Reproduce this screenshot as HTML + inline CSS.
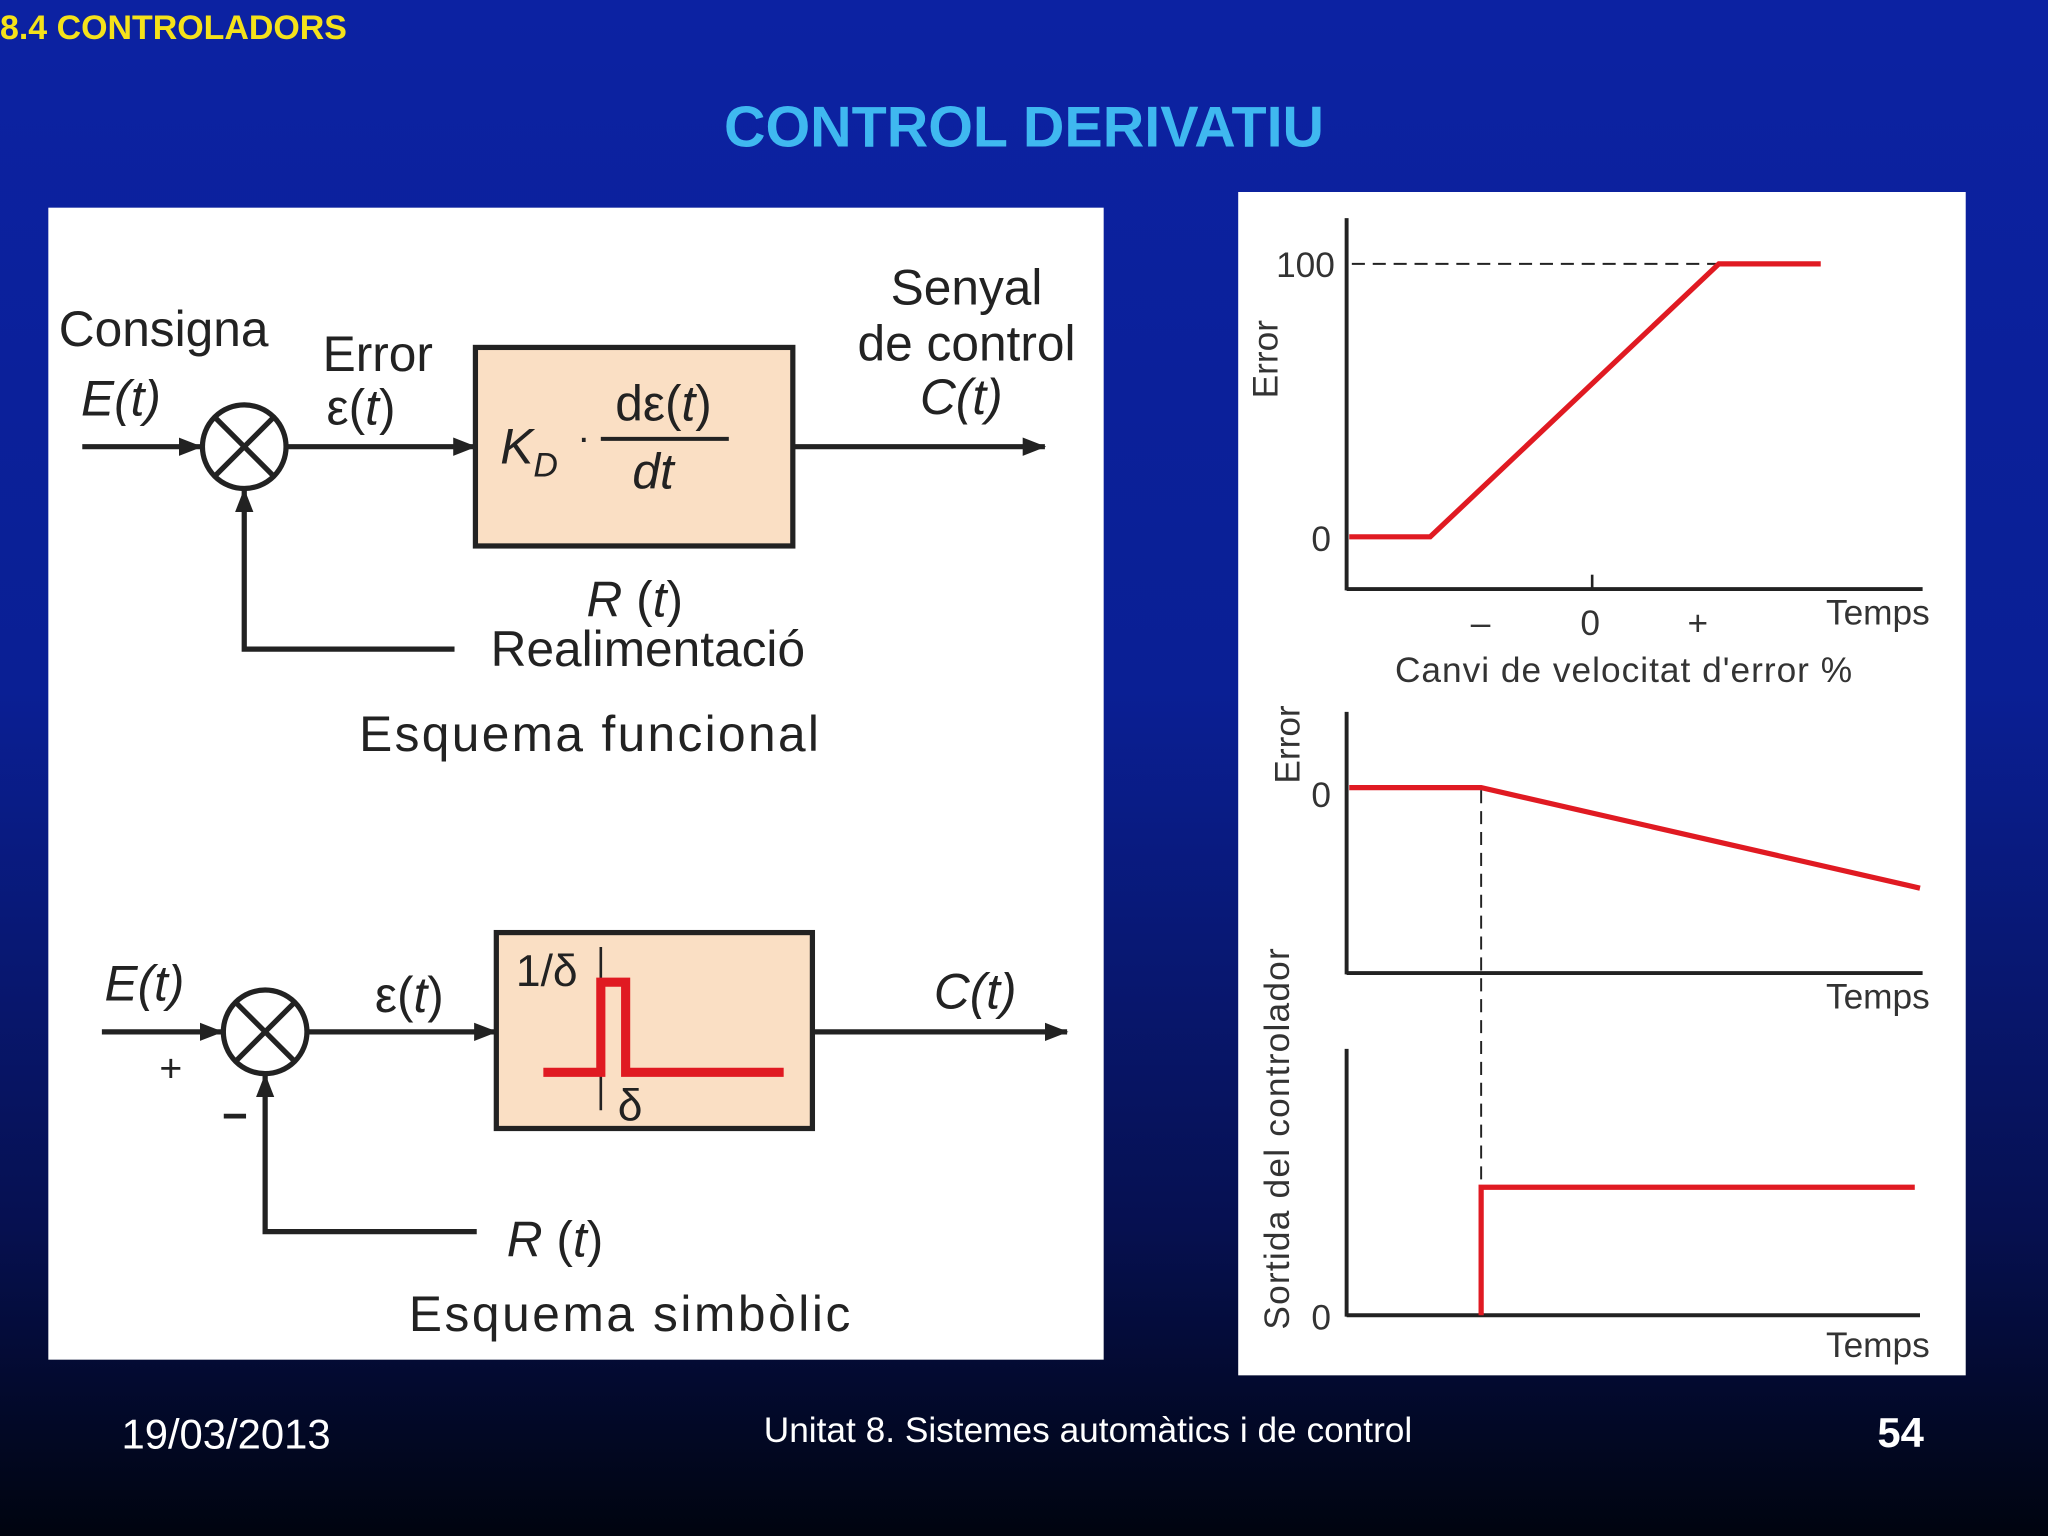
<!DOCTYPE html>
<html><head><meta charset="utf-8"><style>
html,body{margin:0;padding:0;width:2048px;height:1536px;overflow:hidden}
</style></head><body>
<svg width="2048" height="1536" viewBox="0 0 1568 1176" xmlns="http://www.w3.org/2000/svg" font-family="Liberation Sans, sans-serif">
<defs>
<linearGradient id="bg" x1="0" y1="0" x2="0" y2="1">
<stop offset="0" stop-color="#0c22a2"/>
<stop offset="0.45" stop-color="#0a1f94"/>
<stop offset="0.8" stop-color="#061050"/>
<stop offset="1" stop-color="#00040f"/>
</linearGradient>
<marker id="ah" markerWidth="18" markerHeight="14" refX="17" refY="7" orient="auto" markerUnits="userSpaceOnUse"><path d="M0,0 L18,7 L0,14 z" fill="#222"/></marker>
</defs>
<rect width="1568" height="1176" fill="url(#bg)"/>
<text x="0" y="30" fill="#f5e21a" font-size="26" font-family="Liberation Sans Narrow, Liberation Sans, sans-serif" font-weight="bold">8.4 CONTROLADORS</text>
<text x="784" y="112" fill="#3fb8f0" font-size="44" text-anchor="middle" font-weight="bold">CONTROL DERIVATIU</text>

<rect x="37" y="159" width="808" height="882" fill="#fff"/>
<g fill="#222" stroke="#222">
<text x="45" y="265" font-size="38" stroke="none">Consigna</text>
<text x="62" y="318" font-size="38" font-style="italic" stroke="none">E(t)</text>
<text x="247" y="284" font-size="38" stroke="none">Error</text>
<text x="250" y="325" font-size="38" stroke="none">ε(<tspan font-style="italic">t</tspan>)</text>
<text x="740" y="233" font-size="38" text-anchor="middle" stroke="none">Senyal</text>
<text x="740" y="276" font-size="38" text-anchor="middle" stroke="none">de control</text>
<text x="736" y="317" font-size="38" font-style="italic" text-anchor="middle" stroke="none">C(t)</text>
<line x1="63" y1="342" x2="154" y2="342" stroke-width="4" marker-end="url(#ah)"/>
<circle cx="187" cy="342" r="32" fill="none" stroke-width="4"/>
<line x1="164" y1="319" x2="210" y2="365" stroke-width="4"/><line x1="210" y1="319" x2="164" y2="365" stroke-width="4"/>
<line x1="219" y1="342" x2="364" y2="342" stroke-width="4" marker-end="url(#ah)"/>
<rect x="364" y="266" width="243" height="152" fill="#fadfc4" stroke-width="4"/>
<text x="383" y="355" font-size="38" font-style="italic" stroke="none">K<tspan font-size="26" dy="10">D</tspan></text>
<text x="442" y="345" font-size="30" stroke="none">·</text>
<text x="508" y="322" font-size="38" text-anchor="middle" stroke="none">dε(<tspan font-style="italic">t</tspan>)</text>
<line x1="460" y1="336" x2="558" y2="336" stroke-width="3"/>
<text x="500" y="374" font-size="38" font-style="italic" text-anchor="middle" stroke="none">dt</text>
<line x1="607" y1="342" x2="800" y2="342" stroke-width="4" marker-end="url(#ah)"/>
<polyline points="348,497 187,497 187,375" fill="none" stroke-width="4" marker-end="url(#ah)"/>
<text x="486" y="472" font-size="38" text-anchor="middle" stroke="none"><tspan font-style="italic">R</tspan> (<tspan font-style="italic">t</tspan>)</text>
<text x="496" y="510" font-size="38" text-anchor="middle" stroke="none">Realimentació</text>
<text x="451" y="575" font-size="38" text-anchor="middle" stroke="none" textLength="352">Esquema funcional</text>

<text x="80" y="766" font-size="38" font-style="italic" stroke="none">E(t)</text>
<line x1="78" y1="790" x2="170" y2="790" stroke-width="4" marker-end="url(#ah)"/>
<text x="122" y="828" font-size="30" stroke="none">+</text>
<text x="170" y="866" font-size="34" stroke="none" font-weight="bold">−</text>
<circle cx="203" cy="790" r="32" fill="none" stroke-width="4"/>
<line x1="180" y1="767" x2="226" y2="813" stroke-width="4"/><line x1="226" y1="767" x2="180" y2="813" stroke-width="4"/>
<text x="287" y="775" font-size="38" stroke="none">ε(<tspan font-style="italic">t</tspan>)</text>
<line x1="235" y1="790" x2="380" y2="790" stroke-width="4" marker-end="url(#ah)"/>
<rect x="380" y="714" width="242" height="150" fill="#fadfc4" stroke-width="4"/>
<text x="395" y="755" font-size="34" stroke="none">1/δ</text>
<line x1="460" y1="725" x2="460" y2="850" stroke-width="2"/>
<polyline points="416,821 460,821 460,752 479,752 479,821 600,821" fill="none" stroke="#e01a22" stroke-width="7"/>
<text x="473" y="858" font-size="34" stroke="none">δ</text>
<line x1="622" y1="790" x2="817" y2="790" stroke-width="4" marker-end="url(#ah)"/>
<text x="715" y="772" font-size="38" font-style="italic" stroke="none">C(t)</text>
<polyline points="365,943 203,943 203,823" fill="none" stroke-width="4" marker-end="url(#ah)"/>
<text x="388" y="962" font-size="38" stroke="none"><tspan font-style="italic">R</tspan> (<tspan font-style="italic">t</tspan>)</text>
<text x="482" y="1019" font-size="38" text-anchor="middle" stroke="none" textLength="338">Esquema simbòlic</text>
</g>

<rect x="948" y="147" width="557" height="906" fill="#fff"/>
<g fill="#333" stroke="#222" font-size="27">
<text x="977" y="212" stroke="none">100</text>
<text x="1004" y="422" stroke="none">0</text>
<text transform="translate(978,305) rotate(-90)" stroke="none">Error</text>
<line x1="1031" y1="167" x2="1031" y2="452" stroke-width="3"/>
<line x1="1031" y1="451" x2="1472" y2="451" stroke-width="3"/>
<line x1="1219" y1="440" x2="1219" y2="451" stroke-width="2"/>
<line x1="1035" y1="202" x2="1315" y2="202" stroke-width="1.5" stroke-dasharray="10,6"/>
<polyline points="1033,411 1095,411 1316,202 1394,202" fill="none" stroke="#e01a22" stroke-width="4"/>
<text x="1126" y="486" stroke="none">–</text>
<text x="1210" y="486" stroke="none">0</text>
<text x="1292" y="486" stroke="none">+</text>
<text x="1398" y="478" stroke="none">Temps</text>
<text x="1068" y="522" stroke="none" textLength="350">Canvi de velocitat d'error %</text>

<text transform="translate(995,600) rotate(-90)" stroke="none">Error</text>
<text x="1004" y="618" stroke="none">0</text>
<line x1="1031" y1="545" x2="1031" y2="746" stroke-width="3"/>
<line x1="1031" y1="745" x2="1472" y2="745" stroke-width="3"/>
<polyline points="1033,603 1134,603 1470,680" fill="none" stroke="#e01a22" stroke-width="4"/>
<line x1="1134" y1="605" x2="1134" y2="905" stroke-width="1.5" stroke-dasharray="10,6"/>
<text x="1398" y="772" stroke="none">Temps</text>

<text transform="translate(987,1018) rotate(-90)" stroke="none" textLength="292">Sortida del controlador</text>
<text x="1004" y="1018" stroke="none">0</text>
<line x1="1031" y1="803" x2="1031" y2="1008" stroke-width="3"/>
<line x1="1031" y1="1007" x2="1470" y2="1007" stroke-width="3"/>
<polyline points="1134,1007 1134,909 1466,909" fill="none" stroke="#e01a22" stroke-width="4"/>
<text x="1398" y="1039" stroke="none">Temps</text>
</g>

<text x="93" y="1109" fill="#fff" font-size="32">19/03/2013</text>
<text x="833" y="1104" fill="#fff" font-size="27" text-anchor="middle">Unitat 8. Sistemes automàtics i de control</text>
<text x="1473" y="1108" fill="#fff" font-size="32" font-weight="bold" text-anchor="end">54</text>
</svg>
</body></html>
